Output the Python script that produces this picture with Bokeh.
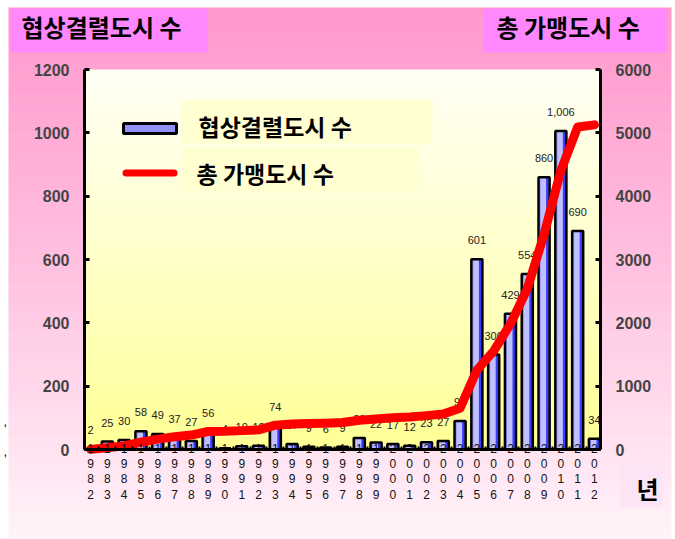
from bokeh.plotting import figure
from bokeh.models import (Range1d, LinearAxis, BoxAnnotation, ColumnDataSource,
                          SingleIntervalTicker, FixedTicker)
from bokeh.transform import dodge
from bokeh.embed import file_html
from bokeh.resources import INLINE
from bokeh.core.properties import value

# ---------------- data ----------------
years = list(range(1982, 2013))
failed_cities = [2, 25, 30, 58, 49, 37, 27, 56, 4, 10, 12, 74, 17, 9, 6, 9, 36, 22,
                 17, 12, 23, 27, 90, 601, 300, 429, 554, 860, 1006, 690, 34]
total_cities = [2, 27, 57, 115, 164, 201, 228, 284, 288, 298, 310, 384, 401, 410,
                416, 425, 461, 483, 500, 512, 535, 562, 652, 1253, 1553, 1982,
                2536, 3396, 4402, 5092, 5126]
left_title = "협상결렬도시 수"
right_title = "총 가맹도시 수"
x_title = "년"

src = ColumnDataSource(dict(
    year=years,
    failed=failed_cities,
    total=total_cities,
    blabel=[f"{v:,}" for v in failed_cities],
    ylabel=["\n".join(str(y)) for y in years],
))

# ---------------- layout helpers (page pixel -> data) ----------------
W, H = 675, 539
FL, FR, FT, FB = 84, 600, 69, 449     # chart area edges in page pixels
X0, X1 = 1981.64, 2012.36             # years at left / right edge of chart area
Y1 = 1200
R1 = 6000


def dx(px):
    return X0 + (px - FL) * (X1 - X0) / (FR - FL)


def dy(py):
    return (FB - py) * Y1 / (FB - FT)


p = figure(width=W, height=H, x_range=Range1d(dx(0), dx(W)), y_range=Range1d(dy(H), dy(0)),
           output_backend="svg", toolbar_location=None,
           x_axis_location=None, y_axis_location=None, min_border=0,
           outline_line_color=None, border_fill_color="white",
           background_fill_color="white")
p.xgrid.visible = False
p.ygrid.visible = False
p.extra_y_ranges = {"tot": Range1d(dy(H) * R1 / Y1, dy(0) * R1 / Y1)}


def mix(c0, c1, t):
    return "#%02X%02X%02X" % tuple(int(round(a + (b - a) * t)) for a, b in zip(c0, c1))


def box(l, r, t, b, color, level="underlay", **kw):
    p.add_layout(BoxAnnotation(left=dx(l), right=dx(r), top=dy(t), bottom=dy(b),
                               fill_color=color, fill_alpha=1, level=level,
                               **({"line_alpha": 0} | kw)))


# pink background gradient
top_y, bot_y = 7, 539
n = 56
for i in range(n):
    ya = top_y + (bot_y - top_y) * i / n
    yb = min(bot_y, top_y + (bot_y - top_y) * (i + 1) / n + 0.8)
    t = i / (n - 1)
    if t < 0.5:
        c = mix((255, 152, 204), (255, 194, 225), t / 0.5)
    else:
        c = mix((255, 194, 225), (255, 243, 249), (t - 0.5) / 0.5)
    box(8, 671, ya, yb, c)

# yellow chart-area gradient
n = 40
for i in range(n):
    ya = FT + (FB - FT) * i / n
    yb = min(FB, FT + (FB - FT) * (i + 1) / n + 0.8)
    t = i / (n - 1)
    c = mix((255, 255, 242), (255, 255, 150), t ** 1.15)
    box(FL, FR, ya, yb, c)

KR = value("Noto Sans CJK KR")

# ---------------- titles ----------------
box(10, 207, 8, 52, "#FF88FF")
box(483, 666, 8, 52, "#FF88FF")
box(620, 662, 465, 507, "#FCE4F6")

p.text(x=[dx(21)], y=[dy(26)], text=[left_title], text_font=KR, text_font_size="24px",
       text_font_style="bold", text_baseline="middle", text_align="left", text_color="black")
p.text(x=[dx(496)], y=[dy(26)], text=[right_title], text_font=KR, text_font_size="24px",
       text_font_style="bold", text_baseline="middle", text_align="left", text_color="black")
p.text(x=[dx(647)], y=[dy(488)], text=[x_title], text_font=KR, text_font_size="24px",
       text_font_style="bold", text_baseline="middle", text_align="center", text_color="black")
p.text(x=[dx(3), dx(3)], y=[dy(421), dy(451)], text=[",", ","], text_font=value("Liberation Sans"),
       text_font_size="13px", text_baseline="middle", text_align="left", text_color="black")

# ---------------- legend boxes (under the marks) ----------------
box(181, 432, 99, 143, "#FFFFD2")
box(181, 418, 147, 191, "#FFFFD2")

# ---------------- bars ----------------
BW = 0.66
p.vbar(x="year", top="failed", width=BW, source=src, fill_color="#C0C0FF", line_color=None)
p.vbar(x=dodge("year", -0.24, range=p.x_range), top="failed", width=0.07, source=src,
       fill_color="#8A8AFF", line_color=None)
p.vbar(x=dodge("year", 0.2, range=p.x_range), top="failed", width=0.16, source=src,
       fill_color="#3C3CFF", line_color=None)
p.vbar(x="year", top="failed", width=BW, source=src, fill_alpha=0, line_color="black",
       line_width=2.5)

p.text(x="year", y="failed", text="blabel", source=src, y_offset=-19,
       text_align="center", text_baseline="middle", text_font=value("Liberation Sans"),
       text_font_size="11px", text_color="#222222")

# ---------------- cumulative line ----------------
p.line(x="year", y="total", source=src, y_range_name="tot", line_color="#FF0000",
       line_width=9, line_join="round", line_cap="round")

# year labels (stacked digits)
p.text(x="year", y=0, text="ylabel", source=src, y_offset=-8,
       text_align="center", text_baseline="top", text_font=value("Liberation Sans"),
       text_font_size="12px", text_line_height=1.1, text_color="#111111")

# ---------------- axes ----------------
def style_y(a):
    a.axis_line_width = 3
    a.major_tick_in = 5
    a.major_tick_out = 0
    a.major_tick_line_width = 3
    a.minor_tick_line_color = None
    a.major_label_text_font = "Liberation Sans"
    a.major_label_text_font_style = "bold"
    a.major_label_text_font_size = "16px"
    a.major_label_standoff = 11


la = LinearAxis(fixed_location=X0, bounds=(0, Y1), ticker=SingleIntervalTicker(interval=200))
style_y(la)
p.add_layout(la, "left")

ra = LinearAxis(fixed_location=X1, bounds=(0, R1), y_range_name="tot",
                ticker=SingleIntervalTicker(interval=1000))
style_y(ra)
p.add_layout(ra, "right")

bx = LinearAxis(fixed_location=0, bounds=(X0, X1),
                ticker=FixedTicker(ticks=[y + 0.5 for y in years[:-1]]))
bx.axis_line_width = 3
bx.major_tick_in = 3
bx.major_tick_out = 0
bx.major_tick_line_width = 2
bx.minor_tick_line_color = None
bx.major_label_text_font_size = "0px"
bx.major_label_text_alpha = 0
p.add_layout(bx, "below")

# ---------------- legend symbols and texts ----------------
box(123, 176, 123, 133, "#9090F8", level="annotation", line_color="black",
    line_alpha=1, line_width=3)
box(122, 177, 169, 176, "#FF0000", level="annotation", border_radius=4)
p.text(x=[dx(198), dx(196)], y=[dy(125), dy(172)], text=[left_title, right_title],
       text_font=KR, text_font_size="23px", text_font_style="bold",
       text_baseline="middle", text_align="left", text_color="black")

open("out.html", "w").write(file_html(p, INLINE))
